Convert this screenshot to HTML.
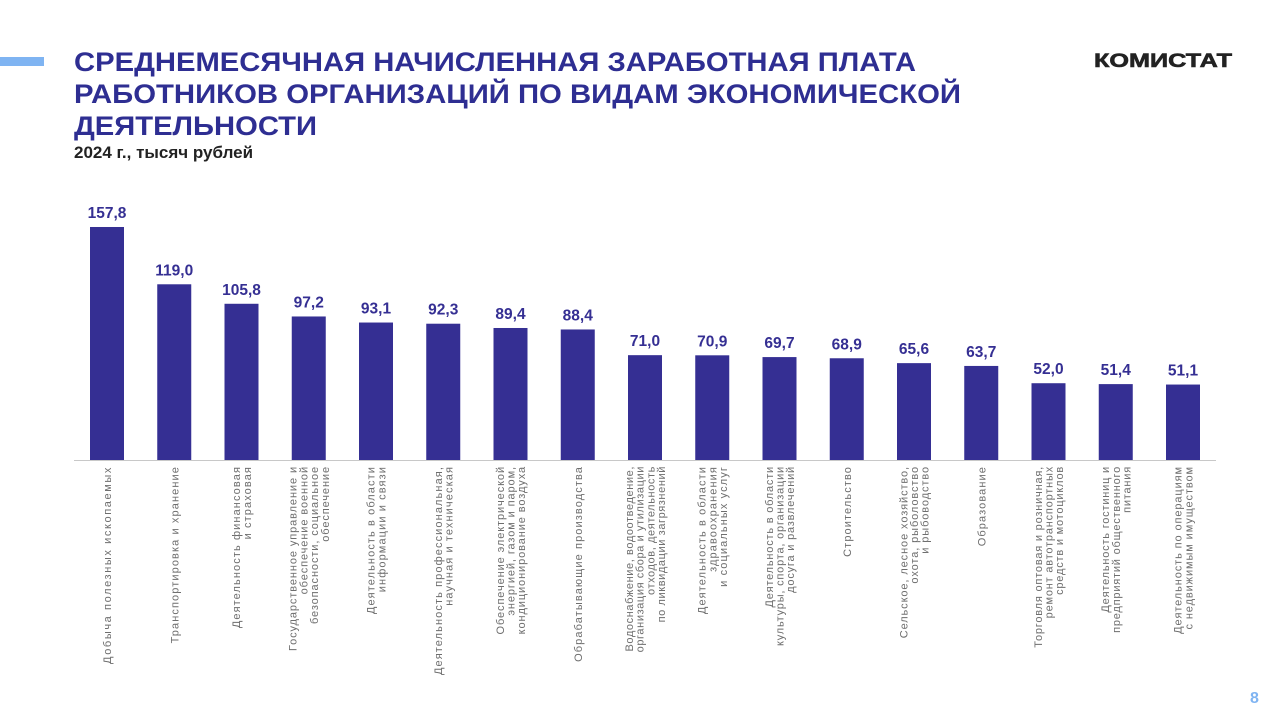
<!DOCTYPE html>
<html><head><meta charset="utf-8"><style>
html,body{margin:0;padding:0;background:#fff;width:1280px;height:720px;overflow:hidden}
text{font-family:"Liberation Sans",sans-serif}
</style></head><body>
<svg width="1280" height="720" viewBox="0 0 1280 720" xmlns="http://www.w3.org/2000/svg">
<rect x="0" y="57" width="44" height="9" fill="#7fb4f2"/>
<g fill="#2e2e92" font-weight="bold" font-size="27">
<text x="74" y="71" textLength="842" lengthAdjust="spacingAndGlyphs">СРЕДНЕМЕСЯЧНАЯ НАЧИСЛЕННАЯ ЗАРАБОТНАЯ ПЛАТА</text>
<text x="74" y="103" textLength="887" lengthAdjust="spacingAndGlyphs">РАБОТНИКОВ ОРГАНИЗАЦИЙ ПО ВИДАМ ЭКОНОМИЧЕСКОЙ</text>
<text x="74" y="135" textLength="243" lengthAdjust="spacingAndGlyphs">ДЕЯТЕЛЬНОСТИ</text>
</g>
<text x="74" y="158" font-size="17" font-weight="bold" fill="#222">2024 г., тысяч рублей</text>
<text x="1094" y="67" font-size="19" font-weight="900" fill="#222" textLength="138" lengthAdjust="spacingAndGlyphs" stroke="#222" stroke-width="0.6">КОМИСТАТ</text>
<text x="1250" y="703" font-size="16" font-weight="bold" fill="#7fb4f2">8</text>
<line x1="74" y1="460.5" x2="1216" y2="460.5" stroke="#c8c8c8" stroke-width="1"/>
<g id="bars"></g>
</svg>
<script>
var d=[[157.8,["Добыча полезных ископаемых"],1.6],
[119.0,["Транспортировка и хранение"],1.1],
[105.8,["Деятельность финансовая","и страховая"],1.1],
[97.2,["Государственное управление и","обеспечение военной","безопасности, социальное","обеспечение"],0.9],
[93.1,["Деятельность в области","информации и связи"],1.1],
[92.3,["Деятельность профессиональная,","научная и техническая"],1.1],
[89.4,["Обеспечение электрической","энергией, газом и паром,","кондиционирование воздуха"],0.9],
[88.4,["Обрабатывающие производства"],1.1],
[71.0,["Водоснабжение, водоотведение,","организация сбора и утилизации","отходов, деятельность","по ликвидации загрязнений"],0.6],
[70.9,["Деятельность в области","здравоохранения","и социальных услуг"],1.1],
[69.7,["Деятельность в области","культуры, спорта, организации","досуга и развлечений"],0.8],
[68.9,["Строительство"],1.1],
[65.6,["Сельское, лесное хозяйство,","охота, рыболовство","и рыбоводство"],0.9],
[63.7,["Образование"],1.1],
[52.0,["Торговля оптовая и розничная,","ремонт автотранспортных","средств и мотоциклов"],0.8],
[51.4,["Деятельность гостиниц и","предприятий общественного","питания"],0.8],
[51.1,["Деятельность по операциям","с недвижимым имуществом"],0.9]];
var g=document.getElementById('bars'),s='';
d.forEach(function(e,i){
 var cx=107+i*67.25,v=e[0],top=460-v*1.4766;
 s+='<rect x="'+(cx-17)+'" y="'+top+'" width="34" height="'+(460-top)+'" fill="#352f93"/>';
 s+='<text x="'+cx+'" y="'+(top-9)+'" text-anchor="middle" font-size="15.5" font-weight="bold" fill="#352f93">'+v.toFixed(1).replace('.',',')+'</text>';
 var n=e[1].length;
 e[1].forEach(function(l,j){
  var x=cx+(j-(n-1)/2)*10.7+4;
  s+='<text transform="translate('+x+',466) rotate(-90)" text-anchor="end" font-size="11" letter-spacing="'+e[2]+'" fill="#6e6e6e">'+l+'</text>';
 });
});
g.innerHTML=s;
</script>
</body></html>
